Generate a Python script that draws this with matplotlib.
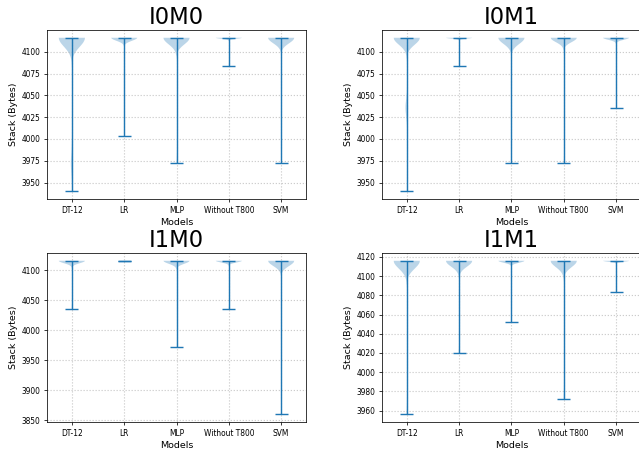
import numpy as np
import matplotlib.pyplot as plt

# ===================== data =====================
MODELS = ['DT-12', 'LR', 'MLP', 'Without T800', 'SVM']
CONFIGS = ['I0M0', 'I0M1', 'I1M0', 'I1M1']

# stack sizes observed per model: distinct values and how many runs hit each
I0M0_VALUES = [[4116, 3972, 3940], [4116, 4004], [4116, 3972], [4116, 4084], [4116, 3972]]
I0M0_COUNTS = [[648, 51, 1], [146, 1], [67, 1], [115, 1], [86, 1]]
I0M1_VALUES = [[4116, 4036, 3940], [4116, 4084], [4116, 3972], [4116, 3972], [4116, 4036]]
I0M1_COUNTS = [[272, 27, 1], [140, 1], [74, 1], [121, 1], [158, 1]]
I1M0_VALUES = [[4116, 4036], [4116], [4116, 3972], [4116, 4036], [4116, 3860]]
I1M0_COUNTS = [[70, 1], [100], [125, 1], [120, 1], [125, 1]]
I1M1_VALUES = [[4116, 3956], [4116, 4020], [4116, 4052], [4116, 3972], [4116, 4084]]
I1M1_COUNTS = [[69, 1], [50, 1], [140, 1], [81, 1], [140, 1]]

ALL_VALUES = [I0M0_VALUES, I0M1_VALUES, I1M0_VALUES, I1M1_VALUES]
ALL_COUNTS = [I0M0_COUNTS, I0M1_COUNTS, I1M0_COUNTS, I1M1_COUNTS]

# ===================== plot =====================
DPI = 68
fig, axes = plt.subplots(2, 2, figsize=(639 / DPI, 449 / DPI), dpi=DPI)
plt.subplots_adjust(left=0.0736, right=1.003, top=0.933, bottom=0.060,
                    wspace=0.293, hspace=0.32)

for ax, name, vals, cnts in zip(axes.flat, CONFIGS, ALL_VALUES, ALL_COUNTS):
    samples = [np.repeat(v, c) for v, c in zip(vals, cnts)]
    ax.violinplot(samples)
    ax.set_xticks(range(1, len(MODELS) + 1))
    ax.set_xticklabels(MODELS)
    ax.tick_params(labelsize=8)
    ax.set_xlabel('Models')
    ax.set_ylabel('Stack (Bytes)')
    ax.set_title(name, fontsize=24)
    ax.grid(linestyle=':', linewidth=1.2, color='#b0b0b0', alpha=0.7)

plt.savefig('out.png', dpi=DPI)
